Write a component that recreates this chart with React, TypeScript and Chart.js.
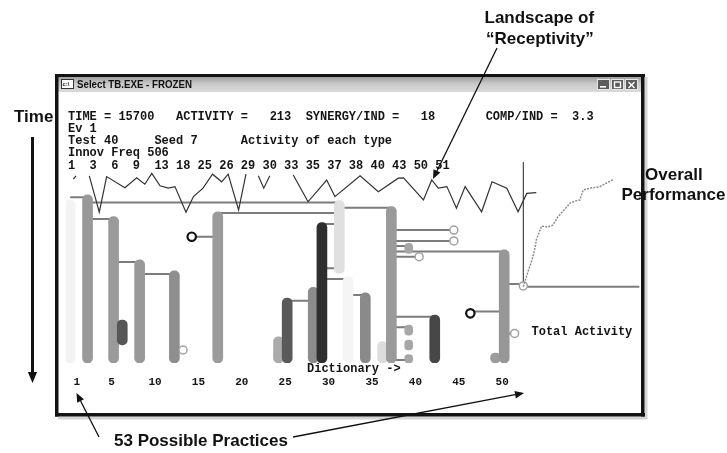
import React, { useEffect, useRef } from 'react';
import { Chart, registerables } from 'chart.js';

Chart.register(...registerables);

const W = 727;
const H = 453;

// ---- data ----
// practices (x) and their lifespans on the time axis (0 = top, 100 = now)
const barPractice = [0, 2, 5, 6, 8, 12, 17, 24, 25, 28, 29, 31, 32, 34, 36, 37, 42, 49, 50];
const barBirth = [23.5, 21.1, 31.3, 79.8, 51.6, 56.7, 29.0, 87.7, 69.5, 64.5, 34.1, 23.8, 59.5, 67.1, 90.0, 26.6, 77.5, 95.3, 46.9];
const barEnd = [100, 100, 100, 91.5, 100, 100, 100, 100, 100, 100, 100, 57.9, 100, 100, 100, 100, 100, 100, 100];
const barShade = ['#f3f3f3', '#999999', '#9a9a9a', '#565656', '#999999', '#8e8e8e', '#9b9b9b', '#ababab', '#595959', '#8c8c8c', '#2f2f2f', '#e0e0e0', '#f5f5f5', '#8a8a8a', '#dcdcdc', '#9a9a9a', '#474747', '#9c9c9c', '#979797'];

// small short-lived blobs
const blobPractice = [39, 39, 39, 39];
const blobBirth = [43.8, 82.2, 89.2, 96.0];
const blobEnd = [48.5, 86.9, 93.9, 100];

// links: from practice -> to practice at time
const linkFrom = [0, 2, 31, 2, 5, 8, 12, 14, 17, 25, 29, 29, 29, 32, 37, 37, 37, 37, 37, 37, 37, 37, 46.1, 50, 50, 52.2];
const linkTo = [2, 31, 37, 5, 8, 12, 13, 17, 31, 28, 31, 31, 31.9, 34, 44.2, 44.2, 39, 50, 40.2, 42, 39, 39, 50, 51.2, 52.2, 65.6];
const linkTime = [22.2, 24.7, 27.1, 32.4, 52.6, 58.2, 93.9, 40.7, 29.6, 70.8, 34.7, 55.5, 60.6, 68.1, 37.6, 42.7, 45.1, 47.7, 50.1, 78.3, 83.2, 98.6, 75.8, 86.1, 62.9, 64.2];

// open circles (new ideas)
const lightCircleX = [13.0, 40.2, 44.2, 44.2, 51.2, 52.2];
const lightCircleT = [93.9, 50.1, 37.6, 42.7, 86.1, 63.8];
const darkCircleX = [14.0, 46.1];
const darkCircleT = [40.7, 76.7];

// landscape of receptivity (null = line leaves the visible band)
const landscapePos = [0.36, 0.67, 1.5, 2.2, 3.35, 4.2, 6.3, 7.66, 8.6, 9.4, 10.35, 11.3, 12.07, 13.34, 14.2, 15.3, 16.4, 17.45, 18.2, 19.4, 20.25, 21.0, 21.67, 22.3, 23.0, 24.3, 25.7, 27.4, 29.55, 30.5, 33.4, 35.5, 37.8, 38.4, 40.7, 41.65, 42.4, 43.4, 44.5, 45.5, 47.4, 48.6, 50.3, 51.6, 52.6, 53.7];
const landscapeVal = [8.5, 9.3, null, 9.3, 0.2, 9.1, 6.3, 8.8, 7.2, 9.9, 6.8, 6.2, 6.6, 0.2, 4.1, 6.2, 9.7, 7.8, 9.7, 0.75, 9.7, null, 9.3, 6.2, 9.3, null, 9.5, 2.8, 8.25, 4.1, 9.3, 5.3, 8.7, 8.8, 3.25, 8.25, 6.2, 6.6, 1.2, 6.6, 0.3, 7.8, 6.2, 0.3, 4.9, 5.1];

// overall performance
const perfPos = [52.2, 52.8, 53.2, 53.5, 53.7, 54.3, 55.0, 55.6, 56.2, 56.9, 57.6, 58.2, 58.7, 59.1, 60.0, 61.0, 61.8, 62.6];
const perfVal = [0, 15.5, 24.9, 34.2, 43.5, 56.5, 55.6, 57.4, 65.2, 71.4, 77.9, 79.8, 80.7, 90.0, 91.9, 93.1, 96.6, 100];
const perfAxisPos = [52.2, 52.2];
const perfAxisVal = [0, 116];

const tickValues = [1, 5, 10, 15, 20, 25, 30, 35, 40, 45, 50];

const statusLines = [
  'TIME = 15700   ACTIVITY =   213  SYNERGY/IND =   18       COMP/IND =  3.3',
  'Ev 1',
  'Test 40     Seed 7      Activity of each type',
  'Innov Freq 506',
  '1  3  6  9  13 18 25 26 29 30 33 35 37 38 40 43 50 51',
];

// ---- drawing helpers ----
function arrow(ctx: CanvasRenderingContext2D, x1: number, y1: number, x2: number, y2: number, head: number, width: number) {
  ctx.save();
  ctx.strokeStyle = '#111';
  ctx.fillStyle = '#111';
  ctx.lineWidth = width;
  const a = Math.atan2(y2 - y1, x2 - x1);
  const bx = x2 - head * Math.cos(a);
  const by = y2 - head * Math.sin(a);
  ctx.beginPath();
  ctx.moveTo(x1, y1);
  ctx.lineTo(bx, by);
  ctx.stroke();
  const hw = head * 0.42;
  ctx.beginPath();
  ctx.moveTo(x2, y2);
  ctx.lineTo(bx + hw * Math.sin(a), by - hw * Math.cos(a));
  ctx.lineTo(bx - hw * Math.sin(a), by + hw * Math.cos(a));
  ctx.closePath();
  ctx.fill();
  ctx.restore();
}

const windowPlugin = {
  id: 'windowFrame',
  beforeDraw(chart: any) {
    const ctx: CanvasRenderingContext2D = chart.ctx;
    ctx.save();
    ctx.fillStyle = '#ffffff';
    ctx.fillRect(0, 0, W, H);
    // drop shadow
    ctx.fillStyle = '#d4d4d4';
    ctx.fillRect(58, 416.5, 589, 3);
    ctx.fillRect(644.5, 77, 3, 342);
    // title bar
    const g = ctx.createLinearGradient(0, 77, 0, 92);
    g.addColorStop(0, '#9e9e9e');
    g.addColorStop(0.45, '#c9c9c9');
    g.addColorStop(1, '#dadada');
    ctx.fillStyle = g;
    ctx.fillRect(58, 77, 583, 15);
    // border
    ctx.fillStyle = '#141414';
    ctx.fillRect(55, 74, 590, 3);
    ctx.fillRect(55, 413, 590, 3.5);
    ctx.fillRect(55, 74, 3.5, 342.5);
    ctx.fillRect(641, 74, 3.5, 342.5);
    // icon
    ctx.fillStyle = '#ffffff';
    ctx.fillRect(61, 79, 13, 10);
    ctx.strokeStyle = '#333';
    ctx.lineWidth = 1;
    ctx.strokeRect(61.5, 79.5, 12, 9);
    ctx.fillStyle = '#222';
    ctx.font = 'bold 6px "Liberation Sans"';
    ctx.textBaseline = 'middle';
    ctx.fillText('c:\\', 62.5, 84.5);
    // title
    ctx.fillStyle = '#111';
    ctx.font = 'bold 11px "Liberation Sans"';
    ctx.textBaseline = 'middle';
    ctx.fillText('Select TB.EXE - FROZEN', 77, 85, 115);
    // buttons
    const bxs = [597, 611, 625];
    bxs.forEach((bx, i) => {
      ctx.fillStyle = '#e6e6e6';
      ctx.fillRect(bx, 79, 13, 11);
      ctx.fillStyle = '#5c5c5c';
      ctx.fillRect(bx + 1, 80, 11, 9);
      ctx.strokeStyle = '#ffffff';
      ctx.fillStyle = '#ffffff';
      ctx.lineWidth = 1.4;
      if (i === 0) {
        ctx.fillRect(bx + 3, 86, 6, 1.6);
      } else if (i === 1) {
        ctx.strokeRect(bx + 3.5, 82, 6, 5.5);
      } else {
        ctx.beginPath();
        ctx.moveTo(bx + 3.5, 82);
        ctx.lineTo(bx + 9.5, 88);
        ctx.moveTo(bx + 9.5, 82);
        ctx.lineTo(bx + 3.5, 88);
        ctx.stroke();
      }
    });
    // status text
    ctx.fillStyle = '#141414';
    ctx.font = 'bold 12px "Liberation Mono"';
    ctx.textBaseline = 'middle';
    const ys = [116.5, 129, 141, 152.5, 166];
    statusLines.forEach((s, i) => ctx.fillText(s, 68, ys[i]));
    ctx.fillText('Dictionary ->', 307, 369);
    ctx.fillText('Total Activity', 531.5, 332);
    ctx.restore();
  },
  afterDraw(chart: any) {
    const ctx: CanvasRenderingContext2D = chart.ctx;
    ctx.save();
    ctx.fillStyle = '#111';
    ctx.font = 'bold 17px "Liberation Sans"';
    ctx.textBaseline = 'middle';
    ctx.fillText('Landscape of', 484.5, 18);
    ctx.fillText('\u201CReceptivity\u201D', 486, 39);
    ctx.fillText('Time', 14, 117);
    ctx.fillText('Overall', 645, 175);
    ctx.fillText('Performance', 621.5, 195);
    ctx.fillText('53 Possible Practices', 114, 441);
    ctx.restore();
    arrow(ctx, 32.5, 137, 32.5, 383, 11, 3);
    arrow(ctx, 497, 48, 433, 179, 9, 1.3);
    arrow(ctx, 99, 437, 76.5, 393, 9, 1.3);
    arrow(ctx, 293, 437, 524, 393, 9, 1.3);
  },
};

export default function App() {
  const ref = useRef<HTMLCanvasElement>(null);
  useEffect(() => {
    const canvas = ref.current;
    if (!canvas) return;

    const links: any[] = [];
    linkFrom.forEach((f, i) => {
      links.push({ x: f, y: linkTime[i] });
      links.push({ x: linkTo[i], y: linkTime[i] });
      links.push({ x: linkTo[i], y: null });
    });

    const chart = new Chart(canvas, {
      type: 'bar',
      data: {
        datasets: [
          {
            type: 'line',
            label: 'landscape',
            data: landscapePos.map((p, i) => ({ x: p, y: landscapeVal[i] })),
            xAxisID: 'x',
            yAxisID: 'yL',
            borderColor: '#333333',
            borderWidth: 1.2,
            pointRadius: 0,
            spanGaps: false,
            tension: 0,
            order: 1,
          } as any,
          {
            type: 'line',
            label: 'performance',
            data: perfPos.map((p, i) => ({ x: p, y: perfVal[i] })),
            xAxisID: 'x',
            yAxisID: 'yP',
            borderColor: '#8c8c8c',
            borderWidth: 1.5,
            borderDash: [2, 1.2],
            pointRadius: 0,
            tension: 0,
            order: 1,
          } as any,
          {
            type: 'line',
            label: 'perfAxis',
            data: perfAxisPos.map((p, i) => ({ x: p, y: perfAxisVal[i] })),
            xAxisID: 'x',
            yAxisID: 'yP',
            borderColor: '#222222',
            borderWidth: 1,
            pointRadius: 0,
            order: 6,
          } as any,
          {
            type: 'scatter',
            label: 'darkCircles',
            data: darkCircleX.map((p, i) => ({ x: p, y: darkCircleT[i] })),
            xAxisID: 'x',
            yAxisID: 'y',
            pointStyle: 'circle',
            pointRadius: 4.2,
            borderColor: '#111111',
            borderWidth: 2.2,
            backgroundColor: '#ffffff',
            order: 2,
          } as any,
          {
            type: 'scatter',
            label: 'lightCircles',
            data: lightCircleX.map((p, i) => ({ x: p, y: lightCircleT[i] })),
            xAxisID: 'x',
            yAxisID: 'y',
            pointStyle: 'circle',
            pointRadius: 4,
            borderColor: '#a2a2a2',
            borderWidth: 1.5,
            backgroundColor: '#ffffff',
            order: 2,
          } as any,
          {
            type: 'bar',
            label: 'blobs',
            data: blobPractice.map((p, i) => ({ x: p, y: [blobBirth[i], blobEnd[i]] })),
            xAxisID: 'x',
            yAxisID: 'y',
            backgroundColor: '#a6a6a6',
            barThickness: 8,
            borderRadius: 4,
            borderSkipped: false,
            grouped: false,
            order: 3,
          } as any,
          {
            type: 'bar',
            label: 'practices',
            data: barPractice.map((p, i) => ({ x: p, y: [barBirth[i], barEnd[i]] })),
            xAxisID: 'x',
            yAxisID: 'y',
            backgroundColor: barShade,
            barThickness: 10,
            borderRadius: 5,
            borderSkipped: false,
            grouped: false,
            order: 4,
          } as any,
          {
            type: 'line',
            label: 'links',
            data: links,
            xAxisID: 'x',
            yAxisID: 'y',
            borderColor: '#7c7c7c',
            borderWidth: 2,
            pointRadius: 0,
            spanGaps: false,
            order: 5,
          } as any,
        ],
      },
      options: {
        responsive: false,
        animation: false,
        devicePixelRatio: 1,
        layout: { padding: { left: 65.86, right: 87.4, top: 150, bottom: 52 } },
        plugins: { legend: { display: false }, tooltip: { enabled: false } },
        events: [],
        scales: {
          x: {
            type: 'linear',
            min: -0.5,
            max: 65.6,
            offset: false,
            grid: { display: false, drawTicks: false },
            border: { display: false },
            afterBuildTicks: (ax: any) => {
              ax.ticks = tickValues.map((v) => ({ value: v }));
            },
            ticks: {
              autoSkip: false,
              maxRotation: 0,
              padding: 12.4,
              labelOffset: -2,
              color: '#141414',
              font: { family: '"Liberation Mono"', size: 11, weight: 'bold' },
              callback: (v: any) => String(v),
            },
          },
          y: { type: 'linear', min: 0, max: 100, reverse: true, display: false },
          yL: { type: 'linear', min: -37.5, max: 15.75, display: false },
          yP: { type: 'linear', min: -71, max: 127.3, display: false },
        },
      } as any,
      plugins: [windowPlugin],
    });
    return () => chart.destroy();
  }, []);

  return (
    <div style={{ position: 'absolute', left: 0, top: 0, width: W, height: H, background: '#fff' }}>
      <canvas ref={ref} width={W} height={H} style={{ width: W, height: H, display: 'block' }} />
    </div>
  );
}
